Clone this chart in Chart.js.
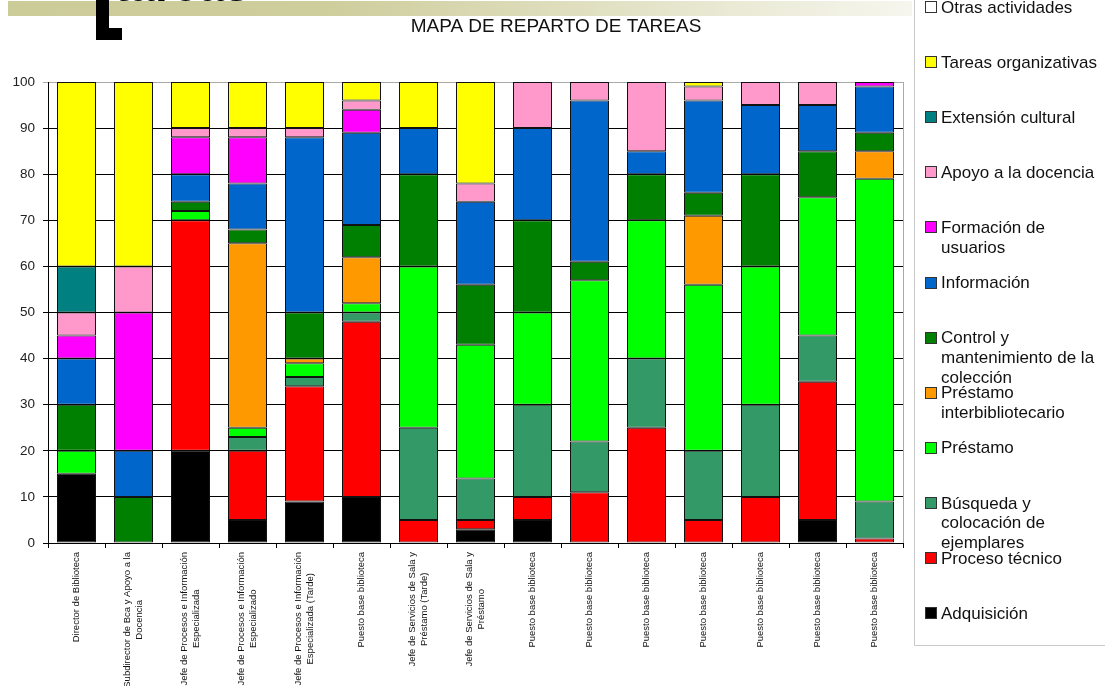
<!DOCTYPE html>
<html>
<head>
<meta charset="utf-8">
<script src="https://cdn.jsdelivr.net/npm/chart.js@4.4.0/dist/chart.umd.min.js"></script>
<style>
  html, body { margin: 0; padding: 0; background: #fff; }
  #wrap { width: 1105px; height: 686px; position: relative; }
</style>
</head>
<body>
<div id="wrap"><canvas id="tareasChart"></canvas></div>
<script>
// Puestos (categorías del eje X)
const puestos = [
  'Director de Biblioteca',
  ['Subdirector de Bca y Apoyo a la', 'Docencia'],
  ['Jefe de Procesos e Información', 'Especializada'],
  ['Jefe de Procesos e Información', 'Especializado'],
  ['Jefe de Procesos e Información', 'Especializada (Tarde)'],
  'Puesto base biblioteca',
  ['Jefe de Servicios de Sala y', 'Préstamo (Tarde)'],
  ['Jefe de Servicios de Sala y', 'Préstamo'],
  'Puesto base biblioteca',
  'Puesto base biblioteca',
  'Puesto base biblioteca',
  'Puesto base biblioteca',
  'Puesto base biblioteca',
  'Puesto base biblioteca',
  'Puesto base biblioteca'
];

const yTicks = [0, 10, 20, 30, 40, 50, 60, 70, 80, 90, 100];

// Porcentaje de dedicación por tarea (de abajo a arriba en cada barra)
const adquisicion   = [15, 0, 20, 5, 9, 10, 0, 3, 5, 0, 0, 0, 0, 5, 0];
const procesoTec    = [0, 0, 50, 15, 25, 38, 5, 2, 5, 11, 25, 5, 10, 30, 1];
const busqueda      = [0, 0, 0, 3, 2, 2, 20, 9, 20, 11, 15, 15, 20, 10, 8];
const prestamo      = [5, 0, 2, 2, 3, 2, 35, 29, 20, 35, 30, 36, 30, 30, 70];
const prestInter    = [0, 0, 0, 40, 1, 10, 0, 0, 0, 0, 0, 15, 0, 0, 6];
const control       = [10, 10, 2, 3, 10, 7, 20, 13, 20, 4, 10, 5, 20, 10, 4];
const informacion   = [10, 10, 6, 10, 38, 20, 10, 18, 20, 35, 5, 20, 15, 10, 10];
const formacion     = [5, 30, 8, 10, 0, 5, 0, 0, 0, 0, 0, 0, 0, 0, 1];
const apoyoDocencia = [5, 10, 2, 2, 2, 2, 0, 4, 10, 4, 15, 3, 5, 5, 0];
const extension     = [10, 0, 0, 0, 0, 0, 0, 0, 0, 0, 0, 0, 0, 0, 0];
const tareasOrg     = [40, 40, 10, 10, 10, 4, 10, 22, 0, 0, 0, 1, 0, 0, 0];
const otras         = [0, 0, 0, 0, 0, 0, 0, 0, 0, 0, 0, 0, 0, 0, 0];

// Nombres de las series (\n = salto de línea en la leyenda)
const nombres = [
  'Adquisición',
  'Proceso técnico',
  'Búsqueda y\ncolocación de\nejemplares',
  'Préstamo',
  'Préstamo\ninterbibliotecario',
  'Control y\nmantenimiento de la\ncolección',
  'Información',
  'Formación de\nusuarios',
  'Apoyo a la docencia',
  'Extensión cultural',
  'Tareas organizativas',
  'Otras actividades'
];
const valores = [adquisicion, procesoTec, busqueda, prestamo, prestInter, control,
  informacion, formacion, apoyoDocencia, extension, tareasOrg, otras];
const colores = ['#000000', '#FF0000', '#339966', '#00FF00', '#FF9900', '#008000',
  '#0066CC', '#FF00FF', '#FF99CC', '#008080', '#FFFF00', '#FFFFFF'];

const FONT = '"Liberation Sans", Arial, sans-serif';

// Decoración de la diapositiva + título
const decorPlugin = {
  id: 'decor',
  beforeDraw(chart) {
    const ctx = chart.ctx;
    ctx.save();
    const g = ctx.createLinearGradient(8, 0, 912, 0);
    g.addColorStop(0, '#cccc99');
    g.addColorStop(0.35, '#cecd9c');
    g.addColorStop(1, '#f6f6ee');
    ctx.fillStyle = g;
    ctx.fillRect(8, 1, 904, 15);

    ctx.fillStyle = '#000';
    ctx.font = 'bold 46px ' + FONT;
    ctx.textBaseline = 'alphabetic';
    ctx.fillText('tareas', 114, 1);
    ctx.fillRect(96, 0, 13, 40);
    ctx.fillRect(96, 28, 26, 12);

    ctx.fillStyle = '#111';
    ctx.font = '19px ' + FONT;
    ctx.textAlign = 'center';
    ctx.textBaseline = 'middle';
    ctx.fillText('MAPA DE REPARTO DE TAREAS', 556, 27);
    ctx.restore();
  }
};

// Etiquetas verticales del eje X, centradas en cada categoría
const xLabelsPlugin = {
  id: 'xLabels',
  afterDraw(chart) {
    const { ctx } = chart;
    const x = chart.scales.x;
    const lineH = 12;
    ctx.save();
    ctx.font = '9.5px ' + FONT;
    ctx.fillStyle = '#111';
    ctx.textAlign = 'center';
    ctx.textBaseline = 'middle';
    chart.data.labels.forEach((lab, i) => {
      const lines = [].concat(lab);
      const cx = x.getPixelForTick(i);
      const maxW = Math.max(...lines.map(l => ctx.measureText(l).width));
      const cy = x.top + 9 + maxW / 2;
      lines.forEach((l, j) => {
        const off = (j - (lines.length - 1) / 2) * lineH;
        ctx.save();
        ctx.translate(cx + off, cy);
        ctx.rotate(-Math.PI / 2);
        ctx.fillText(l, 0, 0);
        ctx.restore();
      });
    });
    ctx.restore();
  }
};

// Leyenda lateral (de arriba a abajo en orden inverso a las series)
const legendPlugin = {
  id: 'sideLegend',
  afterDraw(chart) {
    const ctx = chart.ctx;
    ctx.save();
    ctx.strokeStyle = '#c8c8c8';
    ctx.lineWidth = 1;
    ctx.beginPath();
    ctx.moveTo(914.5, 0);
    ctx.lineTo(914.5, 645.5);
    ctx.lineTo(1105, 645.5);
    ctx.stroke();

    ctx.font = '17px ' + FONT;
    ctx.textBaseline = 'middle';
    ctx.textAlign = 'left';
    const ds = chart.data.datasets.slice().reverse();
    ds.forEach((d, i) => {
      const y = 7 + i * 55.1;
      ctx.fillStyle = d.backgroundColor;
      ctx.fillRect(925.5, Math.round(y) - 5.5, 11, 11);
      ctx.strokeStyle = '#333';
      ctx.strokeRect(925.5, Math.round(y) - 5.5, 11, 11);
      ctx.fillStyle = '#111';
      d.legendLines.forEach((l, j) => ctx.fillText(l, 941, y + 1 + j * 19.8));
    });
    ctx.restore();
  }
};

// Marco gris derecho del área de trazado
const framePlugin = {
  id: 'frame',
  afterDatasetsDraw(chart) {
    const { ctx, chartArea: a } = chart;
    ctx.save();
    ctx.strokeStyle = '#aaaaaa';
    ctx.lineWidth = 1;
    ctx.beginPath();
    ctx.moveTo(Math.round(a.right) + 0.5, a.top);
    ctx.lineTo(Math.round(a.right) + 0.5, a.bottom);
    ctx.stroke();
    ctx.restore();
  }
};

const datasets = nombres.map((n, i) => ({
  label: n.replace(/\n/g, ' '),
  legendLines: n.split('\n'),
  data: valores[i],
  backgroundColor: colores[i],
  borderColor: '#111',
  borderWidth: 1,
  borderSkipped: false,
  categoryPercentage: 1,
  barPercentage: 0.684
}));

new Chart(document.getElementById('tareasChart'), {
  type: 'bar',
  data: { labels: puestos, datasets: datasets },
  options: {
    responsive: true,
    maintainAspectRatio: false,
    animation: false,
    layout: { padding: { top: 82, right: 202, left: 0, bottom: 0 } },
    plugins: {
      legend: { display: false },
      title: { display: false },
      tooltip: { enabled: false }
    },
    scales: {
      x: {
        stacked: true,
        grid: { display: true, drawOnChartArea: false, offset: true, tickLength: 5, color: '#000' },
        border: { color: '#000' },
        ticks: { display: false },
        afterFit: s => { s.height = 143; }
      },
      y: {
        stacked: true,
        min: 0,
        max: 100,
        afterBuildTicks: s => { s.ticks = yTicks.map(v => ({ value: v })); },
        ticks: { color: '#222', font: { family: FONT, size: 13.5 }, padding: 8 },
        grid: {
          color: c => (c.tick && c.tick.value === 100 ? '#aaaaaa' : '#000'),
          tickLength: 5
        },
        border: { color: '#000' },
        afterFit: s => { s.width = 48; }
      }
    }
  },
  plugins: [decorPlugin, framePlugin, xLabelsPlugin, legendPlugin]
});
</script>
</body>
</html>
